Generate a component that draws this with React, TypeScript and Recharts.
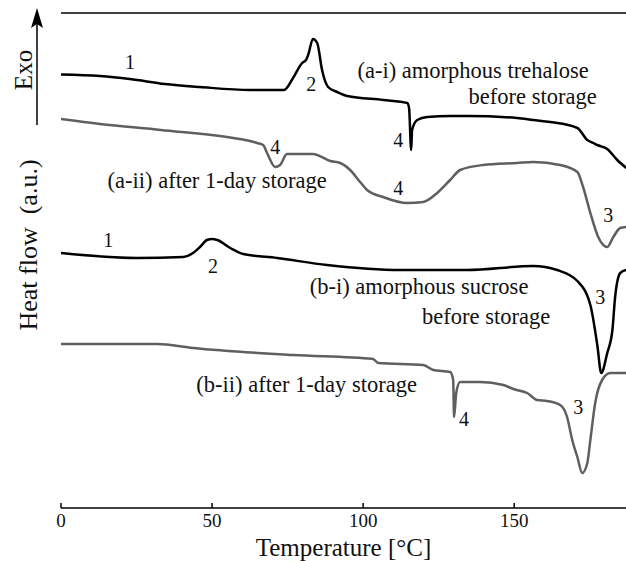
import React from 'react';
import { LineChart, Line, XAxis, YAxis, ReferenceLine, ReferenceDot } from 'recharts';

// (a-i) amorphous trehalose before storage
const trehaloseBeforeT = [0, 12.9, 22.8, 34.4, 46.0, 62.6, 73.8, 76.8, 79.8, 81.1, 81.8, 83.4, 84.8, 86.4, 88.4, 91.4, 94.7, 106.6, 114.6, 115.2, 115.9, 116.2, 117.9, 121.2, 128.8, 134.4, 151.0, 156.3, 161.9, 170.9, 174.2, 176.2, 177.5, 180.8, 184.1, 187.1];
const trehaloseBeforeHF = [86.7, 86.4, 85.8, 84.8, 84.2, 83.6, 83.6, 86.0, 89.0, 89.6, 90.6, 93.8, 93.0, 87.6, 84.2, 83.2, 82.4, 81.6, 81.0, 80.0, 71.6, 75.6, 77.6, 78.2, 78.4, 78.4, 78.0, 77.6, 77.2, 76.0, 73.6, 73.0, 72.6, 71.8, 69.6, 68.0];

// (a-ii) trehalose after 1-day storage
const trehaloseStoredT = [0, 12.9, 33.0, 57.0, 62.6, 64.9, 66.9, 68.2, 70.9, 72.5, 74.8, 83.4, 89.1, 92.4, 95.7, 99.0, 101.3, 106.6, 114.6, 119.9, 124.5, 128.8, 132.1, 139.7, 151.0, 156.3, 165.2, 170.9, 172.8, 175.2, 177.8, 180.8, 182.8, 185.1, 187.1];
const trehaloseStoredHF = [77.8, 76.8, 75.6, 74.0, 73.4, 73.0, 72.6, 71.0, 68.2, 68.6, 70.8, 70.8, 69.4, 69.0, 67.6, 65.2, 63.6, 62.2, 61.0, 61.2, 63.0, 65.6, 67.6, 68.6, 69.0, 69.2, 68.6, 67.2, 64.2, 59.0, 54.2, 52.2, 54.2, 56.0, 56.2];

// (b-i) amorphous sucrose before storage
const sucroseBeforeT = [0, 25.2, 40.4, 43.7, 46.0, 48.3, 50.0, 51.7, 56.0, 60.3, 71.5, 88.1, 112.3, 134.4, 156.3, 164.2, 170.9, 175.2, 177.5, 178.8, 180.8, 182.5, 183.4, 185.1, 187.1];
const sucroseBeforeHF = [51.0, 50.0, 50.2, 51.0, 52.2, 53.6, 53.8, 53.6, 52.0, 50.8, 50.0, 48.6, 47.6, 47.6, 48.4, 47.6, 45.4, 40.6, 32.6, 27.0, 31.0, 35.6, 42.2, 47.0, 47.6];

// (b-ii) sucrose after 1-day storage
const sucroseStoredT = [0, 31.8, 43.7, 76.8, 103.3, 105.0, 119.9, 123.2, 128.8, 129.8, 130.1, 130.8, 132.1, 138.7, 146.4, 149.7, 154.3, 157.6, 160.9, 165.2, 167.5, 169.2, 170.9, 172.5, 174.2, 175.2, 176.8, 179.1, 181.8, 187.1];
const sucroseStoredHF = [32.8, 32.8, 32.0, 30.6, 29.8, 29.0, 28.6, 27.6, 27.2, 25.6, 18.2, 23.0, 25.2, 25.2, 24.6, 23.8, 23.0, 21.6, 21.4, 20.6, 18.2, 13.6, 10.2, 7.0, 9.0, 13.6, 21.0, 25.6, 27.0, 27.0];

const xTicks = [0, 50, 100, 150];

// annotation texts anchored at (temperature, heat-flow) positions
const noteText = ['1', '2', '(a-i) amorphous trehalose', 'before storage', '4', '4', '(a-ii) after 1-day storage', '4', '3', '1', '2', '(b-i) amorphous sucrose', 'before storage', '3', '(b-ii) after 1-day storage', '4', '3'];
const noteT = [22.8, 82.8, 136.4, 156.1, 111.6, 70.9, 51.7, 111.6, 181.1, 15.6, 50.3, 118.5, 140.7, 178.5, 81.3, 133.4, 171.2];
const noteHF = [89.2, 84.8, 87.6, 82.4, 73.6, 72.2, 65.6, 64.0, 58.6, 53.6, 48.4, 44.4, 38.4, 42.2, 24.8, 17.8, 20.2];

const zip = (t: number[], v: number[]) => t.map((x, i) => ({ T: x, v: v[i] }));

const SERIF = '"Liberation Serif", "Times New Roman", serif';
const TEXT = '#111';

export default function App() {
  return (
    <div style={{ position: 'absolute', left: 0, top: 0, width: 626, height: 561, background: '#fff' }}>
      <LineChart width={626} height={561} margin={{ top: 13, right: 0, bottom: 0, left: 61 }}>
        <XAxis
          type="number"
          dataKey="T"
          domain={[0, 187]}
          ticks={xTicks}
          allowDataOverflow
          height={53}
          tickSize={-5}
          tickMargin={11}
          axisLine={{ stroke: '#000', strokeWidth: 1.5 }}
          tickLine={{ stroke: '#000', strokeWidth: 1.5 }}
          tick={{ fill: TEXT, fontSize: 19, fontFamily: SERIF }}
          label={{ value: 'Temperature [°C]', position: 'insideBottom', offset: 5, fill: TEXT, fontSize: 25, fontFamily: SERIF }}
        />
        <YAxis
          type="number"
          domain={[0, 99]}
          width={0}
          tick={false}
          tickLine={false}
          axisLine={{ stroke: '#000', strokeWidth: 1.5 }}
          allowDataOverflow
        />
        <ReferenceLine y={99} stroke="#000" strokeWidth={1.5} />
        <Line data={zip(trehaloseBeforeT, trehaloseBeforeHF)} dataKey="v" stroke="#000" strokeWidth={2.5} dot={false} type="monotone" isAnimationActive={false} />
        <Line data={zip(trehaloseStoredT, trehaloseStoredHF)} dataKey="v" stroke="#5f5f5f" strokeWidth={2.5} dot={false} type="monotone" isAnimationActive={false} />
        <Line data={zip(sucroseBeforeT, sucroseBeforeHF)} dataKey="v" stroke="#000" strokeWidth={2.5} dot={false} type="monotone" isAnimationActive={false} />
        <Line data={zip(sucroseStoredT, sucroseStoredHF)} dataKey="v" stroke="#5f5f5f" strokeWidth={2.5} dot={false} type="monotone" isAnimationActive={false} />
        {noteText.map((t, i) => (
          <ReferenceDot
            key={i}
            x={noteT[i]}
            y={noteHF[i]}
            r={0}
            fill="none"
            stroke="none"
            label={{ value: t, position: 'center', fill: TEXT, fontSize: t.length === 1 ? 20 : 22.5, fontFamily: SERIF }}
          />
        ))}
      </LineChart>
      <svg width={626} height={561} style={{ position: 'absolute', left: 0, top: 0, pointerEvents: 'none' }}>
        <line x1={37} y1={24} x2={37} y2={125} stroke="#000" strokeWidth={1.5} />
        <polygon points="37,8 31,28 37,24 43,28" fill="#000" />
        <text x={23} y={70} transform="rotate(-90 23 70)" textAnchor="middle" dominantBaseline="central" fontSize={25} fontFamily={SERIF} fill={TEXT}>Exo</text>
        <text x={28} y={245} transform="rotate(-90 28 245)" textAnchor="middle" dominantBaseline="central" fontSize={26} fontFamily={SERIF} fill={TEXT} style={{ whiteSpace: 'pre' }}>Heat flow  (a.u.)</text>
      </svg>
    </div>
  );
}
